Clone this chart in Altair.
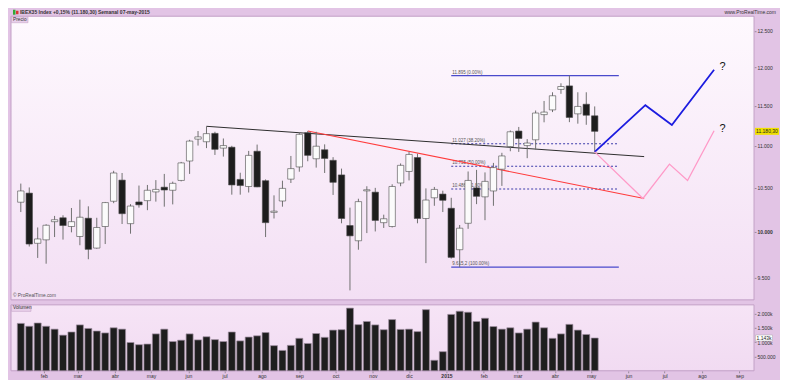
import altair as alt
import pandas as pd

# ---------------- data ----------------
weeks = pd.date_range("2014-01-13", periods=69, freq="7D").strftime("%Y-%m-%dT00:00").tolist()

opens = [10334, 10439, 9873, 9911, 10113, 10157, 10059, 9948, 10152, 9821,
         10059, 10345, 10591, 10091, 10337, 10352, 10453, 10508, 10472, 10587,
         10818, 11084, 11052, 11155, 10974, 10985, 10599, 10516, 10936, 10584,
         10218, 10348, 10602, 10747, 11163, 10845, 10954, 10826, 10652, 10070,
         9901, 10465, 10450, 10102, 10059, 10557, 10693, 10860, 10149, 10385,
         10428, 10265, 9803, 10095, 10500, 10396, 10464, 10720, 10993, 11184,
         11005, 11076, 11390, 11450, 11713, 11759, 11400, 11522, 11375]
highs = [10550, 10505, 10048, 10084, 10178, 10185, 10268, 10363, 10287, 10157,
         10337, 10701, 10675, 10312, 10527, 10534, 10591, 10664, 10573, 10807,
         11076, 11184, 11243, 11175, 11092, 11002, 10678, 10940, 11017, 10599,
         10413, 10584, 10879, 11172, 11184, 11175, 11020, 10864, 10727, 10272,
         10374, 10519, 10500, 10192, 10542, 10789, 10928, 10906, 10494, 10511,
         10467, 10385, 10076, 10693, 10712, 10682, 10795, 10917, 11191, 11235,
         11084, 11442, 11564, 11676, 11793, 11895, 11676, 11676, 11494]
lows = [10222, 9838, 9714, 9652, 9942, 9914, 9994, 9852, 9700, 9814,
        9865, 10323, 10087, 9979, 10272, 10243, 10341, 10283, 10309, 10576,
        10664, 11005, 10974, 10891, 10871, 10421, 10421, 10446, 10508, 9942,
        10149, 10283, 10557, 10690, 10815, 10739, 10675, 10418, 10095, 9370,
        9803, 9986, 10004, 10043, 10048, 10519, 10587, 10095, 9658, 10293,
        10222, 9707, 9615, 10033, 10312, 10130, 10293, 10523, 10936, 10928,
        10852, 10954, 11293, 11422, 11656, 11295, 11276, 11262, 10928]
closes = [10464, 9865, 9921, 10073, 10135, 10070, 10113, 10163, 9807, 10048,
          10330, 10675, 10203, 10290, 10304, 10472, 10482, 10475, 10553, 10795,
          11060, 11112, 11152, 10959, 11005, 10534, 10527, 10886, 10511, 10102,
          10232, 10494, 10727, 11143, 10886, 10997, 10849, 10565, 10149, 9955,
          10341, 10478, 10127, 10146, 10516, 10766, 10897, 10149, 10359, 10482,
          10356, 9720, 10040, 10587, 10402, 10576, 10739, 10879, 11175, 11092,
          11036, 11410, 11422, 11631, 11751, 11354, 11494, 11382, 11180.3]
volumes_k = [1653, 1553, 1667, 1553, 1453, 1243, 1353, 1600, 1477, 1387,
             1320, 1500, 1453, 987, 910, 933, 1287, 1453, 1020, 1067,
             1287, 1077, 1187, 1087, 1020, 1353, 1043, 1177, 1220, 1333,
             877, 710, 887, 1133, 953, 1300, 1167, 1420, 1433, 2187,
             1610, 1720, 1600, 1433, 1787, 1443, 1453, 1367, 2133, 367,
             667, 1967, 2077, 2043, 1720, 1833, 1543, 1453, 1500, 1320,
             1453, 1700, 1500, 1133, 1287, 1620, 1420, 1267, 1143]

black_dates = ["2014-06-16T00:00", "2015-06-14T00:00"]
black_vals = [11243, 10871]
red_dates = ["2014-09-08T00:00", "2015-06-14T00:00"]
red_vals = [11184, 10377]
blue_dates = ["2015-05-04T00:00", "2015-06-15T00:00", "2015-07-07T00:00", "2015-08-11T00:00"]
blue_vals = [10928, 11510, 11259, 11971]
pink_dates = ["2015-05-04T00:00", "2015-06-13T00:00", "2015-07-05T00:00", "2015-07-20T00:00", "2015-08-11T00:00"]
pink_vals = [10928, 10377, 10781, 10587, 11187]

fib_levels = [11895, 11027, 10755, 10486, 9615.2]
fib_labels = ["11.895 (0.00%)", "11.027 (38.20%)", "10.755 (50.00%)", "10.486 (61.80%)", "9.615,2 (100.00%)"]
fib_solid = [True, False, False, False, True]
fib_start = "2015-01-05T00:00"
fib_end = "2015-05-24T00:00"

qmark_date = "2015-08-18T00:00"
qmark_vals = [12009, 11211]

price_ticks = [9500, 10000, 10500, 11000, 11500, 12000, 12500]
vol_ticks = [500, 1000, 1500, 2000]
last_price = 11180.3
last_vol = 1143

# ---------------- layout ----------------
PW, PH, VH = 744, 284, 66
BAND = "#e2c4e5"
BORDER = "#c2a0c6"
FONT = "Liberation Sans"

df = pd.DataFrame({"date": weeks, "open": opens, "high": highs, "low": lows,
                   "close": closes, "vol": volumes_k})
one = pd.DataFrame({"a": [0]})

xscale = alt.Scale(domain=[alt.DateTime(year=2014, month=1, date=9),
                           alt.DateTime(year=2015, month=9, date=9)])
X = alt.X("date:T", scale=xscale, axis=None, title=None)

yscale = alt.Scale(type="log", domain=[9272, 12705], nice=False)
yaxis = alt.Axis(orient="right", values=price_ticks, title=None, grid=False, domain=False,
                 tickSize=2, labelPadding=1,
                 labelExpr="replace(format(datum.value, ','), ',', '.')",
                 labelFontWeight={"condition": {"test": "datum.value == 10000", "value": "bold"},
                                  "value": "normal"})


def PY(field):
    return alt.Y(field, scale=yscale, axis=yaxis, title=None)


price_grad = alt.LinearGradient(gradient="linear",
                                stops=[alt.GradientStop(color="#fef9fe", offset=0),
                                       alt.GradientStop(color="#f3dff4", offset=1)],
                                x1=0, x2=0, y1=0, y2=1)
vol_grad = alt.LinearGradient(gradient="linear",
                              stops=[alt.GradientStop(color="#f6e4f6", offset=0),
                                     alt.GradientStop(color="#f1dbf2", offset=1)],
                              x1=0, x2=0, y1=0, y2=1)

# ---- price panel ----
p_bg = alt.Chart(one).mark_rect(fill=price_grad, stroke=BORDER, strokeWidth=1).encode(
    x=alt.value(0), x2=alt.value(PW), y=alt.value(0), y2=alt.value(PH))

wicks = alt.Chart(df).mark_rule(color="#707070", strokeWidth=1).encode(
    x=X, y=PY("low:Q"), y2="high:Q")

bodies = alt.Chart(df).mark_bar(size=6.4, stroke="#4a4a4a", strokeWidth=0.6).encode(
    x=X, y=PY("open:Q"), y2="close:Q",
    fill=alt.condition(alt.datum.close >= alt.datum.open, alt.value("#fbfbfb"), alt.value("#1d1d1d")))


def line_layer(dates, vals, color, width):
    d = pd.DataFrame({"date": dates, "p": vals})
    return alt.Chart(d).mark_line(color=color, strokeWidth=width).encode(x=X, y=PY("p:Q"))


black_l = line_layer(black_dates, black_vals, "#2e2e2e", 1)
red_l = line_layer(red_dates, red_vals, "#ff3b3b", 1.1)
blue_l = line_layer(blue_dates, blue_vals, "#1c1ce0", 1.8)
pink_l = line_layer(pink_dates, pink_vals, "#ff9ac8", 1.3)

fib_df = pd.DataFrame({"start": [fib_start] * 5, "end": [fib_end] * 5,
                       "level": fib_levels, "label": fib_labels, "solid": fib_solid})
fib_solid_l = alt.Chart(fib_df[fib_df.solid]).mark_rule(color="#4a4acc", strokeWidth=1.2).encode(
    x=alt.X("start:T", scale=xscale, axis=None, title=None), x2="end:T", y=PY("level:Q"))
fib_dash_l = alt.Chart(fib_df[~fib_df.solid]).mark_rule(color="#3c3caa", strokeWidth=1.1,
                                                         strokeDash=[2, 2]).encode(
    x=alt.X("start:T", scale=xscale, axis=None, title=None), x2="end:T", y=PY("level:Q"))
fib_txt = alt.Chart(fib_df).mark_text(align="left", baseline="bottom", dx=1, dy=-1, fontSize=4.5,
                                      font=FONT, color="#555").encode(
    x=alt.X("start:T", scale=xscale, axis=None, title=None), y=PY("level:Q"), text="label:N")

q_df = pd.DataFrame({"date": [qmark_date] * 2, "p": qmark_vals})
q_txt = alt.Chart(q_df).mark_text(text="?", fontSize=11, font=FONT, color="#111").encode(
    x=X, y=PY("p:Q"))

lp_df = pd.DataFrame({"p": [last_price], "t": ["11.180,30"]})
lp_box = alt.Chart(lp_df).mark_tick(orient="horizontal", size=24, thickness=7, color="#f0e000",
                                    opacity=1).encode(x=alt.value(PW + 13), y=PY("p:Q"))
lp_txt = alt.Chart(lp_df).mark_text(align="left", baseline="middle", fontSize=5, font=FONT,
                                    color="#222").encode(x=alt.value(PW + 2), y=PY("p:Q"), text="t:N")

hdr_icon_g = alt.Chart(one).mark_rect(fill="#33aa33").encode(
    x=alt.value(2), x2=alt.value(4.5), y=alt.value(-6.5), y2=alt.value(-1.5))
hdr_icon_r = alt.Chart(one).mark_rect(fill="#dd3333").encode(
    x=alt.value(5), x2=alt.value(7.5), y=alt.value(-5.5), y2=alt.value(-2))
hdr_txt = alt.Chart(one).mark_text(align="left", baseline="middle", fontSize=5, font=FONT,
                                   fontWeight="bold", color="#333",
                                   text="IBEX35 Index    +0,15% (11.180,30)    Semanal    07-may-2015").encode(
    x=alt.value(9), y=alt.value(-4))
hdr_right = alt.Chart(one).mark_text(align="right", baseline="middle", fontSize=5, font=FONT,
                                     color="#333", text="www.ProRealTime.com").encode(
    x=alt.value(PW + 22), y=alt.value(-4))
precio_box = alt.Chart(one).mark_rect(fill="#e8cfea", stroke="#c4a4c8", strokeWidth=0.6).encode(
    x=alt.value(0.5), x2=alt.value(17), y=alt.value(0.5), y2=alt.value(6.5))
precio_txt = alt.Chart(one).mark_text(align="left", baseline="middle", fontSize=4.8, font=FONT,
                                      color="#333", text="Precio").encode(x=alt.value(2), y=alt.value(3.6))
copy_txt = alt.Chart(one).mark_text(align="left", baseline="middle", fontSize=4.8, font=FONT,
                                    color="#555", text="\u00a9 ProRealTime.com").encode(
    x=alt.value(2), y=alt.value(PH - 3.5))

price = alt.layer(p_bg, fib_solid_l, fib_dash_l, fib_txt, black_l, red_l, wicks, bodies,
                  blue_l, pink_l, q_txt, lp_box, lp_txt, hdr_icon_g, hdr_icon_r, hdr_txt,
                  hdr_right, precio_box, precio_txt, copy_txt).properties(width=PW, height=PH)

# ---- volume panel ----
month_names = "['ene','feb','mar','abr','may','jun','jul','ago','sep','oct','nov','dic']"
xaxis = alt.Axis(values=[alt.DateTime(year=y, month=m, date=1)
                         for (y, m) in [(2014, k) for k in range(2, 13)] + [(2015, k) for k in range(1, 10)]],
                 title=None, grid=False, domain=False, tickSize=2, labelPadding=1,
                 labelExpr="month(datum.value) == 0 ? '' + year(datum.value) : "
                           + month_names + "[month(datum.value)]",
                 labelFontWeight={"condition": {"test": "month(datum.value) == 0", "value": "bold"},
                                  "value": "normal"})
XV = alt.X("date:T", scale=xscale, axis=xaxis, title=None)

vscale = alt.Scale(domain=[0, 2300], nice=False, zero=True)
vaxis = alt.Axis(orient="right", values=vol_ticks, title=None, grid=False, domain=False,
                 tickSize=2, labelPadding=1,
                 labelExpr="datum.value >= 1000 ? replace(format(datum.value, ','), ',', '.') + 'k' : "
                           "replace(format(datum.value * 1000, ','), ',', '.')")


def VY(field):
    return alt.Y(field, scale=vscale, axis=vaxis, title=None)


v_bg = alt.Chart(one).mark_rect(fill=vol_grad, stroke=BORDER, strokeWidth=1).encode(
    x=alt.value(0), x2=alt.value(VW := PW), y=alt.value(0), y2=alt.value(VH))
v_bars = alt.Chart(df).mark_bar(size=7, fill="#1e1e1e", stroke="#a08ea2", strokeWidth=0.7).encode(
    x=XV, y=VY("vol:Q"))
lv_df = pd.DataFrame({"v": [last_vol], "t": ["1.143k"]})
lv_box = alt.Chart(lv_df).mark_tick(orient="horizontal", size=17, thickness=6, color="#ffffff",
                                    stroke="#999", strokeWidth=0.4, opacity=1).encode(
    x=alt.value(PW + 10), y=VY("v:Q"))
lv_txt = alt.Chart(lv_df).mark_text(align="left", baseline="middle", fontSize=5, font=FONT,
                                    color="#222").encode(x=alt.value(PW + 2.5), y=VY("v:Q"), text="t:N")
vol_box = alt.Chart(one).mark_rect(fill="#e8cfea", stroke="#c4a4c8", strokeWidth=0.6).encode(
    x=alt.value(0.5), x2=alt.value(20), y=alt.value(0.5), y2=alt.value(6.5))
vol_txt = alt.Chart(one).mark_text(align="left", baseline="middle", fontSize=4.8, font=FONT,
                                   color="#333", text="Volumen").encode(x=alt.value(2), y=alt.value(3.6))

volume = alt.layer(v_bg, v_bars, lv_box, lv_txt, vol_box, vol_txt).properties(width=PW, height=VH)

chart = alt.vconcat(price, volume, spacing=3).properties(
    background=BAND, padding={"left": 2, "top": 1, "right": 1, "bottom": 1}
).configure_view(stroke=None).configure_axis(
    labelFont=FONT, labelFontSize=5, labelColor="#333", tickColor="#666", tickWidth=0.6
)

chart.save("out.html", embed_options={"renderer": "svg", "actions": False})
